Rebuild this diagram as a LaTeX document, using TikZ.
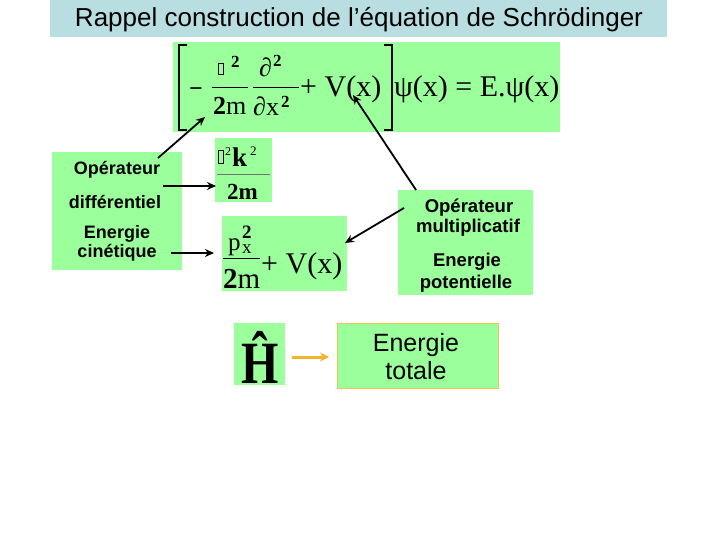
\documentclass[tikz,border=0pt]{standalone}
\usepackage{fontspec}
\setmainfont{Liberation Sans}
\newfontfamily\tms{Liberation Serif}
\usetikzlibrary{arrows.meta}
\definecolor{grn}{RGB}{155,255,155}
\definecolor{ttl}{RGB}{184,222,226}
\definecolor{org}{RGB}{242,180,40}
\tikzset{
  gbox/.style={fill=grn, draw=none, inner sep=0},
  lbl/.style={anchor=base, font=\bfseries\fontsize{18}{20}\selectfont, inner sep=0},
  rlbl/.style={anchor=base, font=\bfseries\fontsize{18.5}{20}\selectfont, inner sep=0},
  eqt/.style={anchor=base west, inner sep=0, font=\tms\fontsize{30}{30}\selectfont},
  arr/.style={line width=1.8pt, -{Stealth[length=9pt,width=8pt]}},
  hb/.style={draw, line width=0.6pt, inner sep=0},
  bar/.style={line width=0.9pt},
  brk/.style={line width=2.4pt}
}
\begin{document}
\begin{tikzpicture}[x=1pt,y=-1pt]
\useasboundingbox (0,0) rectangle (720,540);
\fill[white] (0,0) rectangle (720,540);
% title
\node[fill=ttl, minimum width=617, minimum height=37, inner sep=0] (title) at (358.5,18.5) {};
\node[inner sep=0, anchor=base, font=\fontsize{26}{28}\selectfont] (titletxt) at (359,27) {Rappel construction de l’équation de Schrödinger};
% equation box
\node[gbox, minimum width=387, minimum height=90] (eq) at (366.5,87) {};
\draw[brk] (187,45) -- (179,45) -- (179,130) -- (187,130);
\draw[brk] (384,45) -- (392,45) -- (392,130) -- (384,130);
\node[eqt, font=\tms\bfseries\fontsize{24}{24}\selectfont] (minus) at (189,97) {−};
\node[hb, minimum width=4.5, minimum height=11] (hb1) at (221,69) {};
\node[eqt, font=\tms\bfseries\fontsize{17}{17}\selectfont] (n2a) at (231,68) {2};
\draw[bar] (212,87) -- (248,87);
\node[eqt, font=\tms\fontsize{26}{26}\selectfont] (d2m) at (213,115) {\textbf{2}m};
\node[eqt, font=\tms\fontsize{26}{26}\selectfont] (pd1) at (259,77) {∂};
\node[eqt, font=\tms\bfseries\fontsize{17}{17}\selectfont] (pd1s) at (273,67) {2};
\draw[bar] (253,87) -- (299,87);
\node[eqt, font=\tms\fontsize{26}{26}\selectfont] (pd2) at (253,116) {∂x};
\node[eqt, font=\tms\bfseries\fontsize{17}{17}\selectfont] (pd2s) at (281,108) {2};
\node[eqt] (plusv) at (300,97) {+ V(x)};
\node[eqt] (psi) at (394,97) {ψ(x) = E.ψ(x)};
\coordinate (eqa) at (205,117);
\coordinate (eqb) at (353,95);
% left box
\node[gbox, minimum width=130, minimum height=118] (lb) at (117,211) {};
\node[lbl] (l1) at (117,175) {Opérateur};
\node[lbl] (l2) at (115,208) {différentiel};
\node[lbl] (l3) at (117,238) {Energie};
\node[lbl] (l4) at (117,258) {cinétique};
% hk box
\node[gbox, minimum width=57, minimum height=64] (hk) at (243.5,170) {};
\node[hb, minimum width=5, minimum height=13] (hb2) at (220.5,156.5) {};
\node[eqt, font=\tms\fontsize{12}{12}\selectfont] (hks1) at (225,156) {2};
\node[eqt, font=\tms\bfseries\fontsize{27}{27}\selectfont] (hkk) at (232,167) {k};
\node[eqt, font=\tms\fontsize{13}{13}\selectfont] (hks2) at (250,156) {2};
\draw[line width=0.7pt, black!55] (217,174) -- (270,174);
\node[anchor=base, inner sep=0, font=\tms\bfseries\fontsize{23}{23}\selectfont] (hkd) at (242.5,200) {2m};
% p box
\node[gbox, minimum width=125, minimum height=75] (pb) at (284.5,253.5) {};
\node[eqt, font=\tms\fontsize{25}{25}\selectfont] (pp) at (228,251) {p};
\node[eqt, font=\tms\fontsize{19}{19}\selectfont] (ppx) at (242,253) {x};
\node[eqt, font=\tms\bfseries\fontsize{19}{19}\selectfont] (pps) at (242,238) {2};
\draw[bar] (223,258) -- (260,258);
\node[eqt, font=\tms\fontsize{29}{29}\selectfont] (pd) at (223,288) {\textbf{2}m};
\node[eqt] (pv) at (261,273) {+ V(x)};
% right box
\node[gbox, minimum width=135, minimum height=105] (rb) at (465.5,242.5) {};
\node[rlbl] (r1) at (469,213) {Opérateur};
\node[rlbl] (r2) at (468,233) {multiplicatif};
\node[rlbl] (r3) at (467,266) {Energie};
\node[rlbl] (r4) at (466,288) {potentielle};
% H box
\node[gbox, minimum width=51, minimum height=62] (hbox) at (259.5,354) {};
\node[inner sep=0, anchor=base, font=\tms\bfseries\fontsize{60}{60}\selectfont] (hh) at (260,383) {\scalebox{0.8}[1]{Ĥ}};
% energie totale
\node[fill=grn, draw=org!80, line width=0.8pt, minimum width=161, minimum height=65, inner sep=0] (et) at (417.5,355.5) {};
\node[inner sep=0, anchor=base, font=\fontsize{25}{28}\selectfont] (et1) at (416,351) {Energie};
\node[inner sep=0, anchor=base, font=\fontsize{25}{28}\selectfont] (et2) at (416,379) {totale};
% arrows
\coordinate (a1s) at (158,158);
\coordinate (a2s) at (163,186);
\coordinate (a2e) at (216,186);
\coordinate (a3s) at (171,253);
\coordinate (a3e) at (214,253);
\coordinate (a4s) at (404,208);
\coordinate (a4e) at (345,243);
\coordinate (a5s) at (416,190);
\draw[arr] (a1s) -- (eqa);
\draw[arr] (a2s) -- (a2e);
\draw[arr] (a3s) -- (a3e);
\draw[arr] (a4s) -- (a4e);
\draw[arr] (a5s) -- (eqb);
\coordinate (oas) at (292,357);
\coordinate (oae) at (329,357);
\draw[org, line width=3pt, -{Stealth[length=9pt,width=9pt]}] (oas) -- (oae);
\end{tikzpicture}
\end{document}
